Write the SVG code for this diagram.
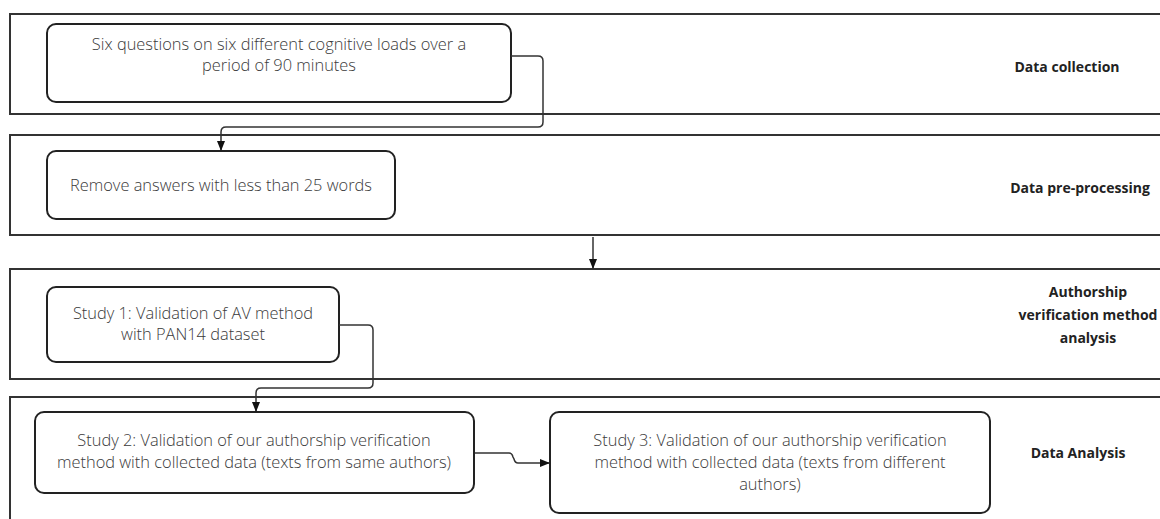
<svg xmlns="http://www.w3.org/2000/svg" width="1160" height="519" viewBox="0 0 1160 519">
<defs>
<marker id="ah" markerWidth="10" markerHeight="10" refX="9" refY="5" orient="auto" markerUnits="userSpaceOnUse">
<path d="M0,1 L10,5 L0,9 Z" fill="#111"/>
</marker>
<style>
.lane{fill:#fff;stroke:#333;stroke-width:2}
.box{fill:#fff;stroke:#222;stroke-width:2}
.t{font-family:"Open Sans","Noto Sans","Liberation Sans",sans-serif;font-size:16.4px;font-weight:300;fill:#3a3a3a;text-anchor:middle}
.lb{font-family:"Open Sans","Noto Sans","Liberation Sans",sans-serif;font-size:14px;font-weight:bold;fill:#222;text-anchor:middle}
.c{fill:none;stroke:#333;stroke-width:1.5}
</style>
</defs>
<rect width="1160" height="519" fill="#fff"/>
<g id="lane1"><rect class="lane" x="10" y="14" width="1160" height="100"/><text class="lb" x="1067" y="72">Data collection</text></g>
<g id="lane2"><rect class="lane" x="10" y="135" width="1160" height="100"/><text class="lb" x="1080" y="193">Data pre-processing</text></g>
<g id="lane3"><rect class="lane" x="10" y="269" width="1160" height="110"/><text class="lb" x="1088" y="297">Authorship</text><text class="lb" x="1088" y="320">verification method</text><text class="lb" x="1088" y="343">analysis</text></g>
<g id="lane4"><rect class="lane" x="10" y="397" width="1160" height="140"/><text class="lb" x="1078" y="458">Data Analysis</text></g>
<g id="n1"><rect class="box" x="47" y="24" width="464" height="78" rx="9"/><text class="t" x="279" y="50">Six questions on six different cognitive loads over a</text><text class="t" x="279" y="71">period of 90 minutes</text></g>
<g id="n2"><rect class="box" x="47" y="151" width="348" height="68" rx="9"/><text class="t" x="221" y="191">Remove answers with less than 25 words</text></g>
<g id="n3"><rect class="box" x="47" y="287" width="292" height="75" rx="9"/><text class="t" x="193" y="319">Study 1: Validation of AV method</text><text class="t" x="193" y="340">with PAN14 dataset</text></g>
<g id="n4"><rect class="box" x="35" y="412" width="439" height="81" rx="9"/><text class="t" x="254" y="446">Study 2: Validation of our authorship verification</text><text class="t" x="254" y="468">method with collected data (texts from same authors)</text></g>
<g id="n5"><rect class="box" x="550" y="412" width="440" height="101" rx="9"/><text class="t" x="770" y="446">Study 3: Validation of our authorship verification</text><text class="t" x="770" y="468">method with collected data (texts from different</text><text class="t" x="770" y="490">authors)</text></g>
<g id="connectors">
<path class="c" d="M511,56 H538 Q543,56 543,61 V122 Q543,127 538,127 H226 Q221,127 221,132 V150" marker-end="url(#ah)"/>
<path class="c" d="M593,237 V268" marker-end="url(#ah)"/>
<path class="c" d="M339,325 H368 Q373,325 373,330 V383 Q373,388 368,388 H261 Q256,388 256,393 V411" marker-end="url(#ah)"/>
<path class="c" d="M475,453 H509 Q512,453 513,457 L514,459 Q515,463 518,463 H549" marker-end="url(#ah)"/>
</g>
</svg>
